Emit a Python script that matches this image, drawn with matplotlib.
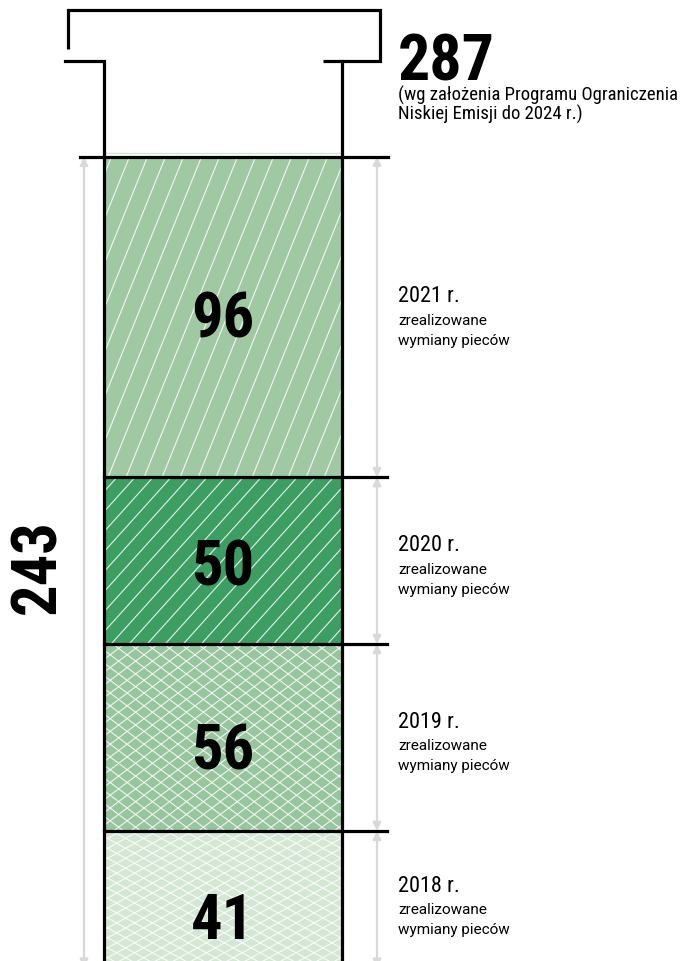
import numpy as np
import matplotlib
matplotlib.use('Agg')
import matplotlib.pyplot as plt
from matplotlib.collections import LineCollection

# stacked from the bottom up
years = ['2018', '2019', '2020', '2021']
counts = [41, 56, 50, 96]
target = 287
note = '(wg założenia Programu Ograniczenia\nNiskiej Emisji do 2024 r.)'
sub_lines = ['zrealizowane', 'wymiany pieców']

fills = ['#d4e7d5', '#97c59d', '#3d9e63', '#a0c9a3']
# hatch families per segment: (angle in degrees, spacing in px)
hatches = [[(29, 8.7), (151, 8.7)], [(37, 10.2), (143, 10.2)], [(48, 13.4)], [(68, 16.7)]]
num_shift = [-22, -14, -7, -3]
label_shift = [-7, -5, -5, 0]

NARROW = ['Roboto Condensed', 'Liberation Sans Narrow', 'Roboto', 'DejaVu Sans']
REG = ['Roboto', 'DejaVu Sans']
GREY = '#d9d9d9'

W, H = 691, 962
fig = plt.figure(figsize=(W / 100, H / 100), dpi=100)
ax = fig.add_axes([0, 0, 1, 1])
y_lo, y_hi = 2.0, 290.3
ax.set_xlim(0, W)
ax.set_ylim(y_lo, y_hi)
ax.axis('off')
ppu = H / (y_hi - y_lo)  # pixels per unit


def hatch(patch, angle, step):
    x0, y0 = patch.get_x(), patch.get_y()
    x1, y1 = x0 + patch.get_width(), y0 + patch.get_height()
    a = np.radians(angle)
    d = np.array([np.cos(a), np.sin(a)])
    n = np.array([-np.sin(a), np.cos(a)])
    corners = np.array([[x0, y0 * ppu], [x1, y0 * ppu], [x0, y1 * ppu], [x1, y1 * ppu]])
    proj = corners @ n
    t0 = corners.mean(axis=0) @ d
    L = np.hypot(x1 - x0, (y1 - y0) * ppu)
    segs = []
    for c in np.arange(np.floor(proj.min() / step) * step, proj.max() + step, step):
        mid = c * n + t0 * d
        p, q = mid - L * d, mid + L * d
        segs.append([(p[0], p[1] / ppu), (q[0], q[1] / ppu)])
    lc = LineCollection(segs, colors='white', linewidths=0.8, alpha=0.85, zorder=2)
    ax.add_collection(lc)
    lc.set_clip_path(patch)


bar_x, bar_w = 223, 238
bottoms = np.concatenate([[0], np.cumsum(counts)[:-1]])
total = sum(counts)
bars = ax.bar(bar_x, counts, width=bar_w, bottom=bottoms, color=fills, linewidth=0, zorder=1)

for rect, fams in zip(bars, hatches):
    for ang, step in fams:
        hatch(rect, ang, step)

# outline of the target "container"
neck = target - 15.3
lw = 2.3
ax.plot([68, 68, 380, 380, 323], [target - 11.7, target, target, neck, neck], color='black', lw=lw,
        solid_capstyle='butt', solid_joinstyle='miter', zorder=5)
ax.plot([65, 104, 104], [neck, neck, 0], color='black', lw=lw, solid_joinstyle='miter', zorder=5)
ax.plot([342, 342], [neck, 0], color='black', lw=lw, zorder=5)

# separators
ax.plot([80, 388], [total, total], color='black', lw=lw, zorder=5)
ax.plot([106, 342], [total + 4 / ppu] * 2, color='#d4e7d5', lw=1, zorder=1)
for b in bottoms[1:]:
    ax.plot([104, 387], [b, b], color='black', lw=lw, zorder=5)

# grey dimension arrows
arrow = dict(arrowstyle='<|-|>', color=GREY, lw=1.6, mutation_scale=12, shrinkA=0, shrinkB=0)
ax.annotate('', xy=(84, total), xytext=(84, 0), arrowprops=arrow, zorder=0)
for b, c in zip(bottoms, counts):
    ax.annotate('', xy=(377, b + c), xytext=(377, b), arrowprops=arrow, zorder=0)

# numbers and labels
for yr, b, c, ns, ls in zip(years, bottoms, counts, num_shift, label_shift):
    mid = b + c / 2
    ax.annotate(str(c), xy=(bar_x, mid), xytext=(0, ns), textcoords='offset pixels',
                ha='center', va='center', fontsize=45, fontweight='heavy', fontstretch='condensed',
                family=NARROW, zorder=6)
    ax.annotate(f'{yr} r.', xy=(398, mid), xytext=(0, 21 + ls), textcoords='offset pixels',
                ha='left', va='center', fontsize=16, fontstretch='condensed', family=NARROW)
    for k, line in enumerate(sub_lines):
        ax.annotate(line, xy=(398, mid), xytext=(0, -3 - 20 * k + ls), textcoords='offset pixels',
                    ha='left', va='center', fontsize=11, family=REG)

ax.annotate(str(target), xy=(398, target), xytext=(0, -69), textcoords='offset pixels',
            ha='left', va='baseline', fontsize=46, fontweight='heavy', fontstretch='condensed', family=NARROW)
ax.annotate(note, xy=(398, target), xytext=(0, -75), textcoords='offset pixels',
            ha='left', va='top', fontsize=13.5, fontstretch='condensed', family=NARROW, linespacing=0.95)
ax.annotate(str(total), xy=(38, total / 2), xytext=(0, -3), textcoords='offset pixels',
            ha='center', va='center', rotation=90, fontsize=45, fontweight='heavy', fontstretch='condensed',
            family=NARROW)

fig.savefig('out.png', dpi=100)
